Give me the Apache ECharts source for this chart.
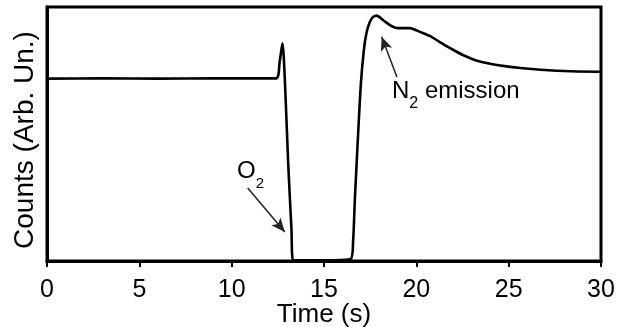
<!DOCTYPE html>
<html>
<head>
<meta charset="utf-8">
<script src="https://cdn.jsdelivr.net/npm/echarts@6/dist/echarts.min.js"></script>
<style>
html,body{margin:0;padding:0;background:#fff;}
#c{width:620px;height:327px;}
</style>
</head>
<body>
<div id="c"></div>
<script>
// Time (s)
var timeS = [0, 3, 6, 9, 12.4, 12.6, 12.75, 12.88, 13.06, 13.24, 13.33, 14.5, 15.5, 16.45, 16.58, 16.67, 16.85, 17.0, 17.16, 17.3, 17.48, 17.66, 17.85, 18.19, 18.57, 19.0, 19.65, 20.19, 20.73, 21.27, 21.81, 22.52, 23.44, 24.36, 25.77, 27.61, 29.78, 30];
// Counts (arbitrary units, 0-100 scale)
var counts = [71.8, 71.9, 71.8, 71.9, 71.9, 78.5, 85.7, 71.3, 38.6, 12.2, 0.3, 0.3, 0.3, 0.8, 8.3, 24, 50.4, 70.1, 83.1, 89.8, 94.1, 96.1, 96.6, 94.9, 92.9, 91.7, 91.7, 90.2, 88.6, 86.2, 83.9, 81.1, 78.5, 77.2, 75.9, 74.9, 74.5, 74.5];
var xTicks = [0, 5, 10, 15, 20, 25, 30];
// annotation arrows [tail, tip] in data coordinates
var o2Arrow = [[10.87, 28.7], [12.88, 11.4]];
var n2Arrow = [[18.95, 72.4], [18.12, 88.3]];

var chart = echarts.init(document.getElementById('c'), null, {renderer: 'canvas'});
var pts = timeS.map(function (t, i) { return [t, counts[i]]; });
var font = 'Arial, "Liberation Sans", Helvetica, sans-serif';

chart.setOption({
  animation: false,
  backgroundColor: '#fff',
  grid: {left: 47, right: 19, top: 7, bottom: 66, show: true, borderColor: '#000', borderWidth: 3,
         containLabel: false, outerBoundsMode: 'none'},
  xAxis: {
    type: 'value', min: xTicks[0], max: xTicks[xTicks.length - 1], interval: 5,
    name: 'Time (s)', nameLocation: 'middle', nameGap: 41, nameMoveOverlap: false,
    nameTextStyle: {fontFamily: font, fontSize: 26, color: '#000'},
    axisLine: {show: true, lineStyle: {color: '#000', width: 3}},
    axisTick: {show: true, length: 6, lineStyle: {color: '#000', width: 2}},
    axisLabel: {fontFamily: font, fontSize: 25, color: '#000', margin: 17},
    splitLine: {show: false}
  },
  yAxis: {
    type: 'value', min: 0, max: 100,
    name: 'Counts (Arb. Un.)', nameLocation: 'middle', nameGap: 8, nameMoveOverlap: false,
    nameTextStyle: {fontFamily: font, fontSize: 28, color: '#000', padding: [0, 12, 0, 0]},
    axisLine: {show: true, lineStyle: {color: '#000', width: 3}},
    axisTick: {show: false}, axisLabel: {show: false}, splitLine: {show: false}
  },
  series: [{
    type: 'line', data: pts, showSymbol: false, smooth: 0.25,
    lineStyle: {color: '#000', width: 2.6},
    markLine: {
      silent: true, symbol: ['none', 'arrow'], symbolSize: [9, 14],
      label: {show: false},
      lineStyle: {color: '#222', width: 1.5, type: 'solid'},
      data: [
        [{coord: o2Arrow[0]}, {coord: o2Arrow[1]}],
        [{coord: n2Arrow[0]}, {coord: n2Arrow[1]}]
      ]
    }
  }],
  graphic: [
    {type: 'text', left: 237, top: 159, style: {
      text: '{n|O}{s|2}', fontFamily: font, fill: '#000',
      rich: {n: {fontSize: 24, fontFamily: font, verticalAlign: 'top', lineHeight: 26},
             s: {fontSize: 15, fontFamily: font, verticalAlign: 'top', padding: [17, 0, 0, 0], lineHeight: 15}}
    }},
    {type: 'text', left: 392, top: 79, style: {
      text: '{n|N}{s|2}{n| emission}', fontFamily: font, fill: '#000',
      rich: {n: {fontSize: 24, fontFamily: font, verticalAlign: 'top', lineHeight: 26},
             s: {fontSize: 16, fontFamily: font, verticalAlign: 'top', padding: [17, 0, 0, 0], lineHeight: 16}}
    }}
  ]
});
</script>
</body>
</html>
